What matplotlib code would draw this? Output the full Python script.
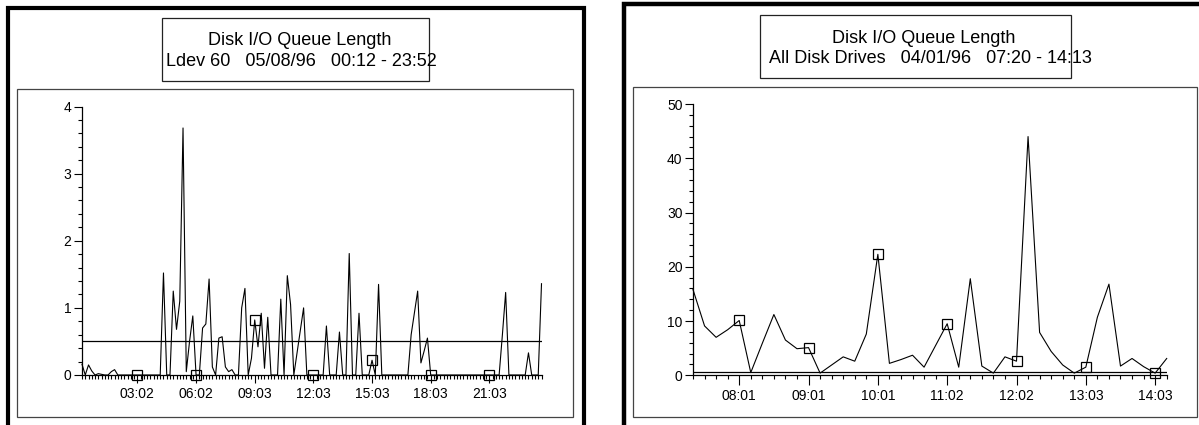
import matplotlib
matplotlib.use("Agg")
import matplotlib.pyplot as plt
from matplotlib.patches import Rectangle
from matplotlib.ticker import MultipleLocator, FixedLocator, NullFormatter

plt.rcParams['font.family'] = ['Liberation Sans', 'DejaVu Sans']

# left chart: Ldev 60, 10-minute samples from 00:12
ldev_queue = [
    0.16, 0.0, 0.15, 0.06, 0.0, 0.02, 0.01, 0.0, 0.0, 0.05,
    0.08, 0.0, 0.0, 0.0, 0.0, 0.0, 0.0, 0.0, 0.0, 0.0,
    0.0, 0.0, 0.0, 0.0, 0.0, 1.52, 0.0, 0.0, 1.25, 0.68,
    1.1, 3.68, 0.05, 0.5, 0.88, 0.0, 0.0, 0.7, 0.76, 1.43,
    0.12, 0.0, 0.55, 0.57, 0.12, 0.05, 0.08, 0.0, 0.0, 1.0,
    1.29, 0.0, 0.25, 0.82, 0.42, 0.92, 0.1, 0.86, 0.0, 0.0,
    0.0, 1.13, 0.0, 1.48, 1.05, 0.0, 0.33, 0.67, 1.0, 0.0,
    0.0, 0.0, 0.0, 0.0, 0.0, 0.73, 0.0, 0.0, 0.0, 0.64,
    0.0, 0.0, 1.81, 0.0, 0.0, 0.92, 0.0, 0.0, 0.0, 0.22,
    0.0, 1.35, 0.0, 0.0, 0.0, 0.0, 0.0, 0.0, 0.0, 0.0,
    0.0, 0.6, 0.92, 1.25, 0.18, 0.36, 0.55, 0.0, 0.0, 0.0,
    0.0, 0.0, 0.0, 0.0, 0.0, 0.0, 0.0, 0.0, 0.0, 0.0,
    0.0, 0.0, 0.0, 0.0, 0.0, 0.0, 0.0, 0.0, 0.0, 0.6,
    1.23, 0.0, 0.0, 0.0, 0.0, 0.0, 0.0, 0.33, 0.0, 0.0,
    0.0, 1.36,
]
ldev_tick_idx = [17, 35, 53, 71, 89, 107, 125]
ldev_tick_lbl = ['03:02', '06:02', '09:03', '12:03', '15:03', '18:03', '21:03']
ldev_limit = 0.5

# right chart: all disk drives, 10-minute samples from 07:21
all_queue = [
    15.8, 9.1, 7.0, 8.4, 10.1, 0.5, 5.9, 11.2, 6.5, 4.9,
    5.1, 0.4, 1.9, 3.4, 2.6, 7.6, 22.3, 2.2, 2.9, 3.7,
    1.5, 5.5, 9.5, 1.5, 17.8, 1.7, 0.4, 3.4, 2.6, 44.0,
    7.9, 4.4, 1.9, 0.4, 1.5, 10.7, 16.8, 1.7, 3.1, 1.6,
    0.4, 3.1,
]
all_tick_idx = [4, 10, 16, 22, 28, 34, 40]
all_tick_lbl = ['08:01', '09:01', '10:01', '11:02', '12:02', '13:03', '14:03']
all_limit = 0.6

W, H = 1199, 425
fig = plt.figure(figsize=(W / 100, H / 100), dpi=100)

# frames and title boxes, in pixel units
bg = fig.add_axes([0, 0, 1, 1])
bg.set_xlim(0, W)
bg.set_ylim(H, 0)
bg.axis('off')

bg.plot([8, 8, 584, 584], [H + 5, 8, 8, H + 5], color='black', lw=3.0,
        solid_joinstyle='miter', clip_on=False)
bg.plot([623.5, 623.5, W + 10], [H + 5, 4, 4], color='black', lw=3.2,
        solid_joinstyle='miter', clip_on=False)

bg.add_patch(Rectangle((17, 89), 556, 328, fill=False, ec='#444444', lw=0.9))
bg.add_patch(Rectangle((633, 87), 564, 330, fill=False, ec='#444444', lw=0.9))
bg.add_patch(Rectangle((162, 18), 267, 63, fill=False, ec='#222222', lw=0.9))
bg.add_patch(Rectangle((760, 15), 311, 63, fill=False, ec='#222222', lw=0.9))

tkw = dict(fontsize=13, va='baseline', ha='center', color='black')
bg.text(300, 45, 'Disk I/O Queue Length', **tkw)
bg.text(301, 66, 'Ldev 60   05/08/96   00:12 - 23:52', **tkw)
bg.text(924, 43, 'Disk I/O Queue Length', **tkw)
bg.text(930, 63, 'All Disk Drives   04/01/96   07:20 - 14:13', **tkw)


def setup(ax, n, ymax, ymajor, yminor, tick_idx, tick_lbl):
    ax.set_xlim(0, n - 1)
    ax.set_ylim(0, ymax)
    for s in ['top', 'right']:
        ax.spines[s].set_visible(False)
    for s in ['left', 'bottom']:
        ax.spines[s].set_linewidth(0.9)
    ax.patch.set_alpha(0)
    ax.xaxis.set_major_locator(FixedLocator(tick_idx))
    ax.set_xticklabels(tick_lbl)
    ax.xaxis.set_minor_locator(FixedLocator([i for i in range(n) if i not in tick_idx]))
    ax.xaxis.set_minor_formatter(NullFormatter())
    ax.yaxis.set_major_locator(MultipleLocator(ymajor))
    ax.yaxis.set_minor_locator(MultipleLocator(yminor))
    ax.tick_params(axis='x', which='major', length=6, width=0.8, pad=3, labelsize=10)
    ax.tick_params(axis='x', which='minor', length=3, width=0.8)
    ax.tick_params(axis='y', which='major', length=6, width=0.8, pad=1.5, labelsize=10)
    ax.tick_params(axis='y', which='minor', length=3, width=0.8)


# left chart
ax1 = fig.add_axes([82 / W, (H - 375) / H, (541.5 - 82) / W, (375 - 106.5) / H])
setup(ax1, len(ldev_queue), 4, 1, 0.2, ldev_tick_idx, ldev_tick_lbl)
x1 = list(range(len(ldev_queue)))
ax1.plot(x1, ldev_queue, color='black', lw=0.8, clip_on=False)
ax1.plot([0, len(ldev_queue) - 1], [ldev_limit, ldev_limit], color='black', lw=0.9)
ax1.plot(ldev_tick_idx, [ldev_queue[i] for i in ldev_tick_idx], ls='none',
         marker='s', ms=7, mfc='none', mec='black', mew=0.9, clip_on=False)

# right chart
ax2 = fig.add_axes([693 / W, (H - 375.3) / H, (1166.7 - 693) / W, (375.3 - 104) / H])
setup(ax2, len(all_queue), 50, 10, 2, all_tick_idx, all_tick_lbl)
ax2.tick_params(axis='x', which='major', length=7)
x2 = list(range(len(all_queue)))
ax2.plot(x2, all_queue, color='black', lw=0.8, clip_on=False)
ax2.plot([0, len(all_queue) - 1], [all_limit, all_limit], color='black', lw=0.9)
ax2.plot(all_tick_idx, [all_queue[i] for i in all_tick_idx], ls='none',
         marker='s', ms=7, mfc='none', mec='black', mew=0.9, clip_on=False)

fig.savefig('out.png', dpi=100)
